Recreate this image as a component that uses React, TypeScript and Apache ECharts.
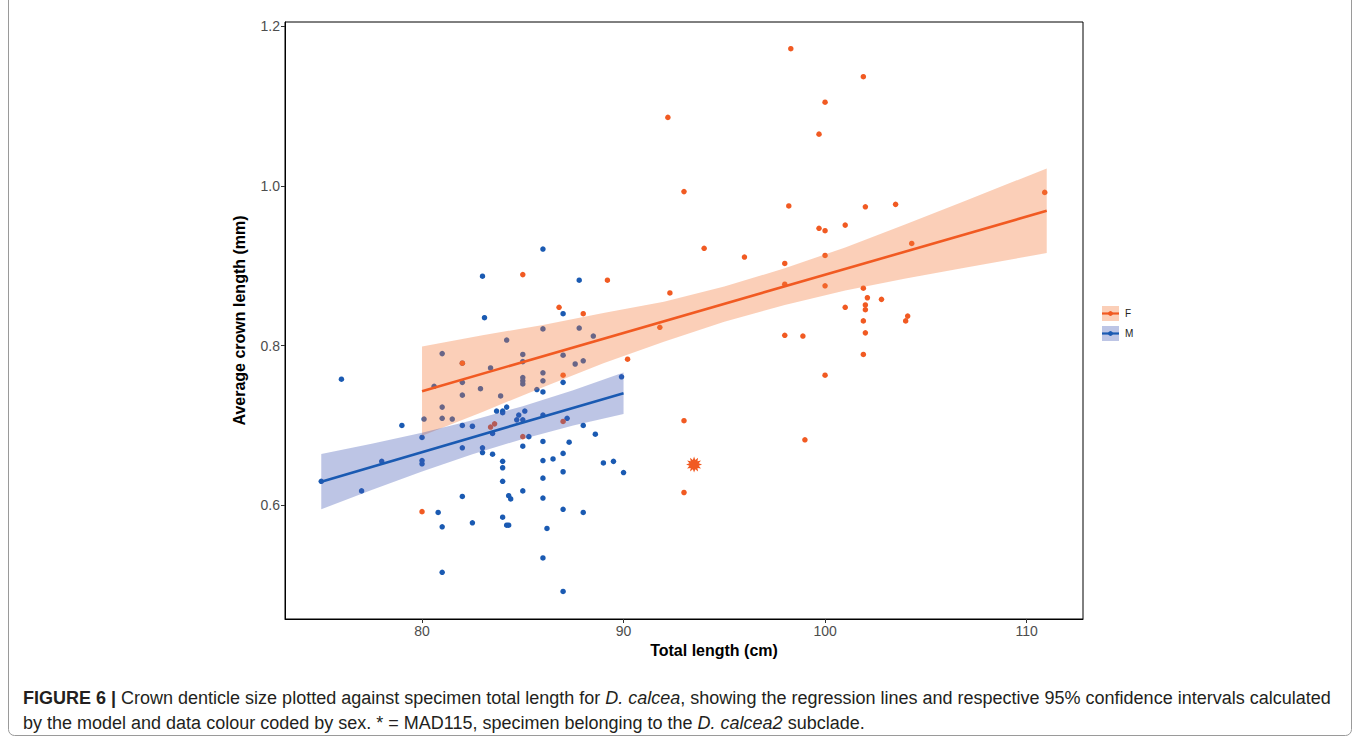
import React, { useEffect, useRef } from "react";
import * as echarts from "echarts";

// ---- data ----
const femaleX = [98.3, 101.9, 100.0, 92.2, 99.7, 93.0, 98.2, 102.0, 103.5, 110.9, 99.7, 100.0, 101.0, 94.0, 96.0, 98.0, 100.0, 104.3, 92.3, 98.0, 100.0, 101.9, 102.1, 102.0, 102.8, 102.0, 101.0, 101.9, 104.1, 104.0, 91.8, 98.0, 98.9, 102.0, 101.9, 100.0, 93.0, 99.0, 93.0, 85.0, 89.2, 86.8, 88.0, 90.2, 87.0, 87.0, 83.4, 83.6, 82.0, 80.0, 85.0];
const femaleY = [1.172, 1.137, 1.105, 1.086, 1.065, 0.993, 0.975, 0.974, 0.977, 0.992, 0.947, 0.944, 0.951, 0.922, 0.911, 0.903, 0.913, 0.928, 0.866, 0.877, 0.875, 0.872, 0.86, 0.851, 0.858, 0.845, 0.848, 0.831, 0.837, 0.831, 0.823, 0.813, 0.812, 0.816, 0.789, 0.763, 0.706, 0.682, 0.616, 0.889, 0.882, 0.848, 0.84, 0.783, 0.763, 0.705, 0.698, 0.702, 0.778, 0.592, 0.686];

const maleX = [75.0, 76.0, 77.0, 78.0, 79.0, 80.0, 80.0, 80.0, 80.1, 80.6, 80.8, 81.0, 81.0, 81.0, 81.0, 81.0, 81.5, 82.0, 82.0, 82.0, 82.0, 82.0, 82.0, 82.5, 82.5, 82.9, 83.0, 83.1, 83.0, 83.0, 83.4, 83.5, 83.5, 83.7, 83.9, 84.0, 84.0, 84.0, 84.0, 84.0, 84.0, 84.2, 84.2, 84.2, 84.3, 84.4, 84.3, 84.7, 84.8, 85.0, 85.0, 85.0, 85.0, 85.0, 85.0, 85.0, 85.0, 85.1, 85.3, 85.7, 86.0, 86.0, 86.0, 86.0, 86.0, 86.0, 86.0, 86.0, 86.0, 86.0, 86.0, 86.2, 86.5, 87.0, 87.0, 87.0, 87.0, 87.0, 87.0, 87.0, 87.2, 87.3, 87.6, 87.8, 87.8, 88.0, 88.0, 88.0, 88.5, 88.6, 89.0, 89.5, 90.0, 89.9];
const maleY = [0.63, 0.758, 0.618, 0.655, 0.7, 0.685, 0.656, 0.652, 0.708, 0.749, 0.591, 0.79, 0.723, 0.709, 0.573, 0.516, 0.708, 0.778, 0.754, 0.738, 0.7, 0.672, 0.611, 0.699, 0.578, 0.746, 0.887, 0.835, 0.672, 0.666, 0.772, 0.69, 0.664, 0.718, 0.737, 0.718, 0.716, 0.655, 0.647, 0.63, 0.585, 0.807, 0.723, 0.575, 0.612, 0.608, 0.575, 0.707, 0.713, 0.789, 0.78, 0.76, 0.756, 0.752, 0.707, 0.674, 0.618, 0.718, 0.686, 0.745, 0.921, 0.821, 0.766, 0.756, 0.742, 0.713, 0.68, 0.656, 0.634, 0.609, 0.534, 0.571, 0.658, 0.84, 0.788, 0.754, 0.665, 0.642, 0.595, 0.492, 0.709, 0.679, 0.777, 0.882, 0.822, 0.781, 0.7, 0.591, 0.812, 0.689, 0.653, 0.655, 0.641, 0.761];

// MAD115 (D. calcea2), female
const starX = [93.5];
const starY = [0.651];

// regression lines (end points)
const femaleLineX = [80, 111];
const femaleLineY = [0.743, 0.969];
const maleLineX = [75, 90];
const maleLineY = [0.6296, 0.7405];

// 95% confidence bands
const femaleBandX = [80, 83, 86, 89, 92, 95, 98, 101, 104, 107, 111];
const femaleBandHi = [0.799, 0.813, 0.826, 0.841, 0.855, 0.874, 0.897, 0.923, 0.952, 0.982, 1.022];
const femaleBandLo = [0.687, 0.717, 0.748, 0.778, 0.805, 0.83, 0.851, 0.869, 0.884, 0.898, 0.916];
const maleBandX = [75, 77.5, 80, 82.5, 85, 87.5, 90];
const maleBandHi = [0.6641, 0.6771, 0.6909, 0.7064, 0.7241, 0.7442, 0.7665];
const maleBandLo = [0.5951, 0.6191, 0.6423, 0.6638, 0.6831, 0.6998, 0.7145];

const xTicks = [80, 90, 100, 110];
const yTicks = [0.6, 0.8, 1.0, 1.2];
const legendLabels = ["F", "M"];

const ORANGE = "#F15A22";
const BLUE = "#1A5AB2";
const ORANGE_FILL = "#F47A3A";
const BLUE_FILL = "#485FB8";
const FILL_OPACITY = 0.36;

const FONT = "'Liberation Sans', Arial, Helvetica, sans-serif";

const starSymbol = (() => {
  const n = 12;
  const R = 10;
  const r = 6.0;
  let d = "";
  for (let i = 0; i < 2 * n; i++) {
    const a = (Math.PI * i) / n - Math.PI / 2;
    const rad = i % 2 === 0 ? R : r;
    const x = 10 + rad * Math.cos(a);
    const y = 10 + rad * Math.sin(a);
    d += (i === 0 ? "M" : "L") + x.toFixed(2) + " " + y.toFixed(2) + " ";
  }
  return "path://" + d + "Z";
})();

function zip(xs: number[], ys: number[]) {
  return xs.map((x, i) => [x, ys[i]]);
}

function bandSeries(xs: number[], lo: number[], hi: number[], color: string, z: number) {
  return {
    type: "custom",
    silent: true,
    z,
    data: [[xs[0], lo[0]]],
    renderItem: (_params: any, api: any) => {
      const pts: number[][] = [];
      for (let i = 0; i < xs.length; i++) pts.push(api.coord([xs[i], hi[i]]));
      for (let i = xs.length - 1; i >= 0; i--) pts.push(api.coord([xs[i], lo[i]]));
      return {
        type: "polygon",
        shape: { points: pts },
        style: { fill: color, opacity: FILL_OPACITY },
      };
    },
  };
}

export default function App() {
  const ref = useRef<HTMLDivElement>(null);

  useEffect(() => {
    if (!ref.current) return;
    const chart = echarts.init(ref.current, null, { renderer: "svg" });

    const legendItems: any[] = [];
    const legendColors = [
      { fill: ORANGE_FILL, line: ORANGE },
      { fill: BLUE_FILL, line: BLUE },
    ];
    legendLabels.forEach((lab, i) => {
      const y0 = 306 + i * 20;
      legendItems.push(
        { type: "rect", shape: { x: 1102, y: y0, width: 17, height: 15 }, style: { fill: legendColors[i].fill, opacity: FILL_OPACITY } },
        { type: "line", shape: { x1: 1102, y1: y0 + 7.5, x2: 1119, y2: y0 + 7.5 }, style: { stroke: legendColors[i].line, lineWidth: 2.2 } },
        { type: "circle", shape: { cx: 1110.5, cy: y0 + 7.5, r: 2.4 }, style: { fill: legendColors[i].line } },
        { type: "text", x: 1125, y: y0 + 7.5, style: { text: lab, fill: "#222", font: `10px ${FONT}`, verticalAlign: "middle", align: "left" } }
      );
    });

    chart.setOption({
      animation: false,
      backgroundColor: "#fff",
      grid: {
        left: 285,
        top: 22,
        width: 798,
        height: 597,
        show: true,
        borderColor: "#000",
        borderWidth: 1,
        backgroundColor: "transparent",
      },
      xAxis: {
        type: "value",
        min: 73.2,
        max: 112.8,
        name: "Total length (cm)",
        nameLocation: "middle",
        nameGap: 18,
        nameTextStyle: { fontFamily: FONT, fontWeight: "bold", fontSize: 16, color: "#000", padding: [0, 0, 0, 60] },
        axisLine: { show: true, onZero: false, lineStyle: { color: "#000", width: 1 } },
        axisTick: { show: true, length: 4, customValues: xTicks, lineStyle: { color: "#333" } },
        axisLabel: { customValues: xTicks, fontFamily: FONT, fontSize: 14, color: "#4D4D4D", margin: 5 },
        splitLine: { show: false },
      },
      yAxis: {
        type: "value",
        min: 0.4575,
        max: 1.2055,
        name: "Average crown length (mm)",
        nameLocation: "middle",
        nameGap: 38,
        nameTextStyle: { fontFamily: FONT, fontWeight: "bold", fontSize: 16, color: "#000" },
        axisLine: { show: true, onZero: false, lineStyle: { color: "#000", width: 1 } },
        axisTick: { show: true, length: 4, customValues: yTicks, lineStyle: { color: "#333" } },
        axisLabel: {
          customValues: yTicks,
          fontFamily: FONT,
          fontSize: 14,
          color: "#4D4D4D",
          margin: 5,
          formatter: (v: number) => v.toFixed(1),
        },
        splitLine: { show: false },
      },
      series: [
        {
          type: "scatter",
          name: "M",
          z: 1,
          symbolSize: 5.5,
          itemStyle: { color: BLUE, opacity: 1 },
          data: zip(maleX, maleY),
        },
        {
          type: "scatter",
          name: "F",
          z: 1,
          symbolSize: 5.5,
          itemStyle: { color: ORANGE, opacity: 1 },
          data: zip(femaleX, femaleY),
        },
        {
          type: "scatter",
          name: "MAD115",
          z: 1,
          symbol: starSymbol,
          symbolSize: 16,
          itemStyle: { color: ORANGE, opacity: 1 },
          data: zip(starX, starY),
        },
        bandSeries(femaleBandX, femaleBandLo, femaleBandHi, ORANGE_FILL, 2),
        {
          type: "line",
          z: 3,
          symbol: "none",
          silent: true,
          lineStyle: { color: ORANGE, width: 2.6 },
          data: zip(femaleLineX, femaleLineY),
        },
        bandSeries(maleBandX, maleBandLo, maleBandHi, BLUE_FILL, 4),
        {
          type: "line",
          z: 5,
          symbol: "none",
          silent: true,
          lineStyle: { color: BLUE, width: 2.6 },
          data: zip(maleLineX, maleLineY),
        },
      ],
      graphic: [
        {
          type: "rect",
          shape: { x: 8.5, y: -10, width: 1343, height: 745.5, r: 6 },
          style: { fill: "none", stroke: "#9A9A9A", lineWidth: 1 },
          silent: true,
        },
        ...legendItems,
        {
          type: "text",
          x: 23,
          y: 698,
          style: {
            text: "{b|FIGURE 6 |} Crown denticle size plotted against specimen total length for {i|D. calcea}, showing the regression lines and respective 95% confidence intervals calculated",
            font: `18px ${FONT}`,
            fill: "#231F20",
            verticalAlign: "middle",
            rich: {
              b: { fontWeight: "bold", fontSize: 18, fontFamily: FONT, fill: "#231F20" },
              i: { fontStyle: "italic", fontSize: 18, fontFamily: FONT, fill: "#231F20" },
            },
          },
        },
        {
          type: "text",
          x: 23,
          y: 723,
          style: {
            text: "by the model and data colour coded by sex. * = MAD115, specimen belonging to the {i|D. calcea2} subclade.",
            font: `18px ${FONT}`,
            fill: "#231F20",
            verticalAlign: "middle",
            rich: {
              i: { fontStyle: "italic", fontSize: 18, fontFamily: FONT, fill: "#231F20" },
            },
          },
        },
      ],
    });

    return () => chart.dispose();
  }, []);

  return (
    <div
      ref={ref}
      style={{ position: "fixed", left: 0, top: 0, width: 1360, height: 744 }}
    />
  );
}
